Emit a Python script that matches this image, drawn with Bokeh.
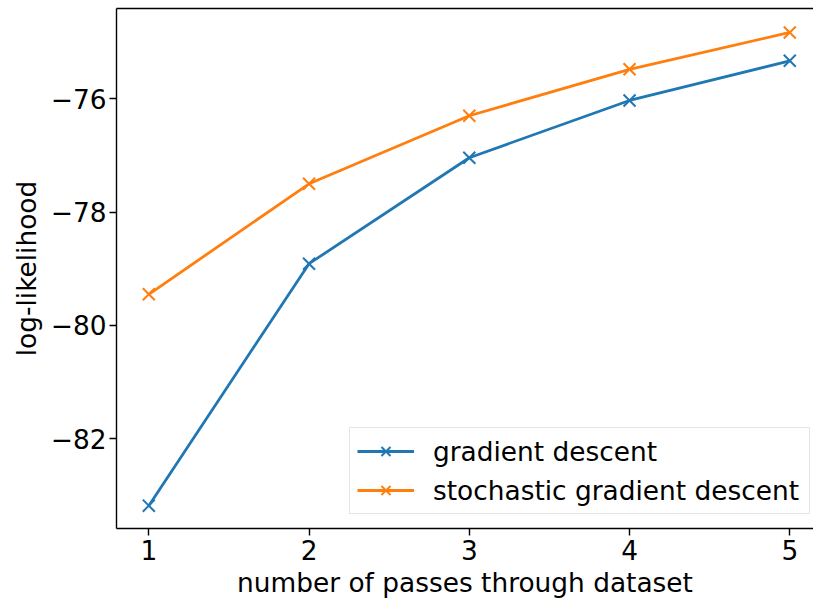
from bokeh.plotting import figure
from bokeh.models import (Range1d, FixedTicker, LinearAxis, CustomJSTickFormatter,
                          Legend, LegendItem)
from bokeh.embed import file_html
from bokeh.resources import INLINE

passes = [1, 2, 3, 4, 5]
gd_loglik = [-83.18, -78.91, -77.04, -76.03, -75.33]
sgd_loglik = [-79.45, -77.50, -76.30, -75.48, -74.83]
x_ticks = [1, 2, 3, 4, 5]
y_ticks = [-82, -80, -78, -76]

BLUE = "#1f77b4"
ORANGE = "#ff7f0e"
FONT = "DejaVu Sans"
FS = "26.4px"

p = figure(frame_width=697, frame_height=520, output_backend="svg",
           toolbar_location=None, x_axis_location=None, y_axis_location=None,
           x_range=Range1d(0.7984, 5.148), y_range=Range1d(-83.583, -74.407),
           min_border_left=116, min_border_right=0, min_border_top=8,
           min_border_bottom=72)
p.outline_line_color = None
p.xgrid.visible = False
p.ygrid.visible = False
p.background_fill_color = "white"
p.border_fill_color = "white"

fmt = CustomJSTickFormatter(code="return tick.toString().replace('-', '\\u2212');")

def style_axis(ax):
    ax.axis_line_color = "black"
    ax.axis_line_width = 1.4
    ax.major_tick_line_color = "black"
    ax.major_tick_line_width = 1.4
    ax.major_tick_out = 7
    ax.major_tick_in = 0
    ax.minor_tick_line_color = None
    ax.major_label_text_font = FONT
    ax.major_label_text_font_size = FS
    ax.major_label_text_color = "black"
    ax.axis_label_text_font = FONT
    ax.axis_label_text_font_size = FS
    ax.axis_label_text_font_style = "normal"
    ax.axis_label_text_color = "black"

xaxis = LinearAxis(ticker=FixedTicker(ticks=x_ticks), formatter=fmt,
                   axis_label="number of passes through dataset")
style_axis(xaxis)
xaxis.major_label_standoff = 4
xaxis.axis_label_standoff = 4
p.add_layout(xaxis, "below")

yaxis = LinearAxis(ticker=FixedTicker(ticks=y_ticks), formatter=fmt,
                   axis_label="log-likelihood")
style_axis(yaxis)
yaxis.major_label_standoff = 3
yaxis.axis_label_standoff = 6
p.add_layout(yaxis, "left")

top = LinearAxis(ticker=FixedTicker(ticks=[]))
top.axis_line_color = "black"
top.axis_line_width = 1.4
top.major_tick_out = 0
top.major_tick_in = 0
top.minor_tick_out = 0
top.minor_tick_in = 0
top.major_label_standoff = 0
top.major_label_text_font_size = "0px"
top.axis_label = None
p.add_layout(top, "above")

l1 = p.line(passes, gd_loglik, line_color=BLUE, line_width=2.8)
m1 = p.scatter(passes, gd_loglik, marker="x", size=17, line_color=BLUE, line_width=2)
l2 = p.line(passes, sgd_loglik, line_color=ORANGE, line_width=2.8)
m2 = p.scatter(passes, sgd_loglik, marker="x", size=17, line_color=ORANGE, line_width=2)

legend = Legend(items=[LegendItem(label="gradient descent", renderers=[l1, m1]),
                       LegendItem(label="stochastic gradient descent", renderers=[l2, m2])],
                location=(233, 14))
legend.label_text_font = FONT
legend.label_text_font_size = FS
legend.label_text_color = "black"
legend.glyph_width = 57
legend.glyph_height = 32
legend.label_height = 32
legend.label_width = 369
legend.label_standoff = 19
legend.padding = 7
legend.spacing = 7
legend.margin = 0
legend.border_line_color = "#cccccc"
legend.border_line_width = 1.2
legend.background_fill_alpha = 0.8
p.add_layout(legend, "center")

open("out.html", "w").write(file_html(p, INLINE))
